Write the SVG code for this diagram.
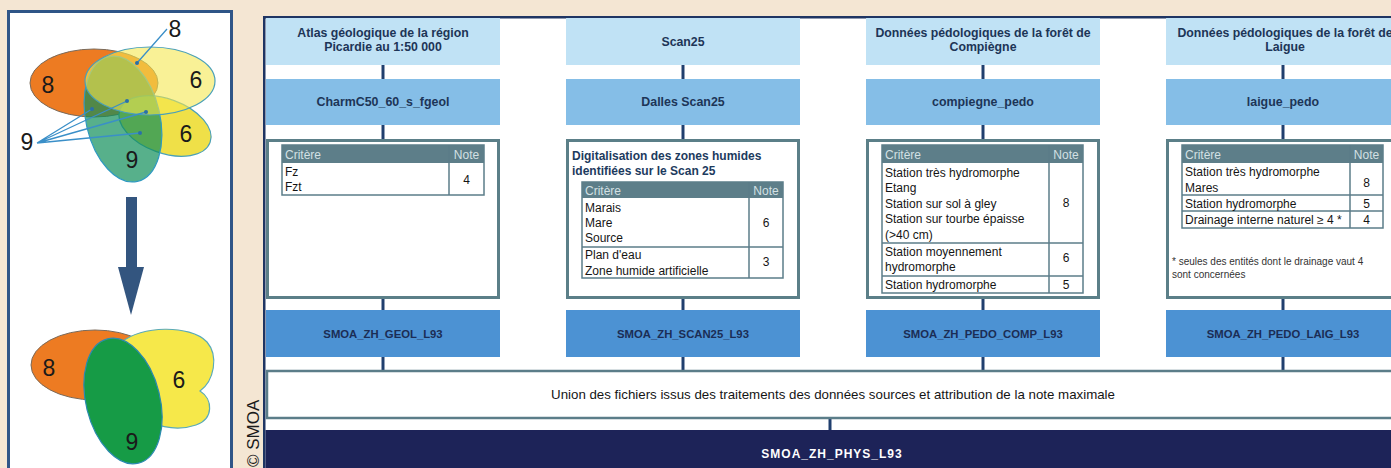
<svg xmlns="http://www.w3.org/2000/svg" width="1391" height="468" viewBox="0 0 1391 468">
<style>
.t{font-family:"Liberation Sans",Arial,sans-serif}
.hdr{font-weight:bold;font-size:12.3px;fill:#1d3557;text-anchor:middle}
.mid{font-weight:bold;font-size:12.4px;fill:#1d3557;text-anchor:middle}
.out{font-weight:bold;font-size:11.3px;fill:#1b2d55;text-anchor:middle}
.tb{font-size:12px;fill:#151515}
.nt{font-size:12px;fill:#151515;text-anchor:middle}
.th{font-size:12px;fill:#d3e0e4}
.thn{font-size:12px;fill:#d3e0e4;text-anchor:middle}
.num{font-size:23px;fill:#1a1a1a;text-anchor:middle}
.topbox{fill:#c0e2f5}
.midbox{fill:#85bee7}
.outbox{fill:#4c92d3}
.crit{fill:#fff;stroke:#5b7f88;stroke-width:3}
.tbl{fill:#fff;stroke:#5b7d89;stroke-width:1.5}
.thead{fill:#5d7e89}
.rl{stroke:#5b7d89;stroke-width:1.5}
.conn{stroke:#203f6e;stroke-width:3}
.lead{stroke:#3a8fc8;stroke-width:1.3;fill:none}
</style>
<rect width="1391" height="468" fill="#f4e6d3"/>

<!-- Left panel -->
<g id="venn-panel">
<rect x="8.5" y="11.5" width="223" height="470" fill="#fff" stroke="#2f5587" stroke-width="3"/>
<g id="venn-before">
<ellipse cx="94" cy="83" rx="64" ry="34" fill="#ed7b22" stroke="#7a6a5a" stroke-width="1"/>
<ellipse cx="165" cy="126" rx="48" ry="27" transform="rotate(20 165 126)" fill="#efe048" stroke="#4aa0b8" stroke-width="1.2"/>
<ellipse cx="123" cy="119" rx="37" ry="64" transform="rotate(-13 123 119)" fill="#0f8f5a" fill-opacity="0.7" stroke="#2f9ac0" stroke-width="1.2"/>
<ellipse cx="150" cy="81" rx="65" ry="34" fill="#f5e850" fill-opacity="0.6" stroke="#4aa0b8" stroke-width="1.2"/>
<text class="t num" x="48" y="93">8</text>
<text class="t num" x="196" y="88">6</text>
<text class="t num" x="186" y="142">6</text>
<text class="t num" x="132" y="168">9</text>
<text class="t num" x="175" y="37">8</text>
<text class="t num" x="27" y="150">9</text>
<path class="lead" d="M167 29 L137 63 M37 143 L127 101 M37 143 L146 112 M37 143 L140 133 M37 143 L92 109"/>
<g fill="#2a70a8"><circle cx="137" cy="63" r="2"/><circle cx="127" cy="101" r="2"/><circle cx="146" cy="112" r="2"/><circle cx="140" cy="133" r="2"/><circle cx="92" cy="109" r="2"/></g>
</g>
<g id="arrow">
<rect x="126" y="197" width="11" height="71" fill="#33557f"/>
<polygon points="118,267 144,267 131,315" fill="#33557f"/>
</g>
<g id="venn-after">
<ellipse cx="95" cy="365" rx="64" ry="35" fill="#ed7b22" stroke="#7a6a5a" stroke-width="1"/>
<path d="M122 342 C140 326 190 324 207 342 C219 356 214 381 200 391 C213 399 214 419 196 425 C176 432 150 426 140 414 Z" fill="#f6e84a" stroke="#5aaab8" stroke-width="1.2"/>
<ellipse cx="123" cy="401" rx="37" ry="64" transform="rotate(-14 123 401)" fill="#169b46" stroke="#2a8ab0" stroke-width="1.2"/>
<text class="t num" x="49" y="376">8</text>
<text class="t num" x="179" y="388">6</text>
<text class="t num" x="132" y="450">9</text>
</g>
</g>

<text class="t" transform="translate(259,467) rotate(-90)" font-size="17" fill="#1a1a1a">© SMOA</text>

<!-- Right panel -->
<rect x="264.25" y="17.25" width="1140" height="470" fill="#fff" stroke="#1f3563" stroke-width="2.5"/>

<g id="connectors">
<line class="conn" x1="383" y1="65" x2="383" y2="79"/>
<line class="conn" x1="383" y1="125" x2="383" y2="140"/>
<line class="conn" x1="383" y1="298" x2="383" y2="310"/>
<line class="conn" x1="383" y1="357" x2="383" y2="370"/>
<line class="conn" x1="683" y1="65" x2="683" y2="79"/>
<line class="conn" x1="683" y1="125" x2="683" y2="140"/>
<line class="conn" x1="683" y1="298" x2="683" y2="310"/>
<line class="conn" x1="683" y1="357" x2="683" y2="370"/>
<line class="conn" x1="983" y1="65" x2="983" y2="79"/>
<line class="conn" x1="983" y1="125" x2="983" y2="140"/>
<line class="conn" x1="983" y1="298" x2="983" y2="310"/>
<line class="conn" x1="983" y1="357" x2="983" y2="370"/>
<line class="conn" x1="1283" y1="65" x2="1283" y2="79"/>
<line class="conn" x1="1283" y1="125" x2="1283" y2="140"/>
<line class="conn" x1="1283" y1="298" x2="1283" y2="310"/>
<line class="conn" x1="1283" y1="357" x2="1283" y2="370"/>
<line class="conn" x1="830" y1="418" x2="830" y2="430"/>
</g>

<!-- Column 1 -->
<g id="src-geol"><rect class="topbox" x="266" y="18" width="234" height="47"/>
<text class="t hdr" x="383" y="37">Atlas géologique de la région</text>
<text class="t hdr" x="383" y="51">Picardie au 1:50 000</text></g>
<g id="lyr-geol"><rect class="midbox" x="266" y="79" width="234" height="46"/>
<text class="t mid" x="383" y="106">CharmC50_60_s_fgeol</text></g>
<g id="crit-geol"><rect class="crit" x="267.5" y="140.5" width="231" height="157"/>
<rect class="tbl" x="282" y="145" width="202" height="50"/>
<rect class="thead" x="282" y="145" width="202" height="18"/>
<line class="rl" x1="449" y1="145" x2="449" y2="195"/>
<text class="t th" x="285" y="159">Critère</text><text class="t thn" x="466.5" y="159">Note</text>
<text class="t tb" x="285" y="176">Fz</text><text class="t tb" x="285" y="191">Fzt</text>
<text class="t nt" x="466.5" y="184">4</text></g>
<g id="out-geol"><rect class="outbox" x="266" y="310" width="234" height="47"/>
<text class="t out" x="383" y="338">SMOA_ZH_GEOL_L93</text></g>

<!-- Column 2 -->
<g id="src-scan"><rect class="topbox" x="566" y="18" width="234" height="47"/>
<text class="t hdr" x="683" y="46">Scan25</text></g>
<g id="lyr-scan"><rect class="midbox" x="566" y="79" width="234" height="46"/>
<text class="t mid" x="683" y="106">Dalles Scan25</text></g>
<g id="crit-scan"><rect class="crit" x="567.5" y="140.5" width="231" height="157"/>
<text class="t" x="572" y="160" font-size="12" font-weight="bold" fill="#1d3b5e">Digitalisation des zones humides</text>
<text class="t" x="572" y="175" font-size="12" font-weight="bold" fill="#1d3b5e">identifiées sur le Scan 25</text>
<rect class="tbl" x="582" y="182" width="201" height="96"/>
<rect class="thead" x="582" y="182" width="201" height="16"/>
<line class="rl" x1="749" y1="182" x2="749" y2="278"/>
<line class="rl" x1="582" y1="247" x2="783" y2="247"/>
<text class="t th" x="585" y="194.5">Critère</text><text class="t thn" x="766" y="194.5">Note</text>
<text class="t tb" x="585" y="212">Marais</text><text class="t tb" x="585" y="227">Mare</text><text class="t tb" x="585" y="242">Source</text>
<text class="t tb" x="585" y="259">Plan d'eau</text><text class="t tb" x="585" y="274.5">Zone humide artificielle</text>
<text class="t nt" x="766" y="227">6</text><text class="t nt" x="766" y="266">3</text></g>
<g id="out-scan"><rect class="outbox" x="566" y="310" width="234" height="47"/>
<text class="t out" x="683" y="338">SMOA_ZH_SCAN25_L93</text></g>

<!-- Column 3 -->
<g id="src-comp"><rect class="topbox" x="866" y="18" width="234" height="47"/>
<text class="t hdr" x="983" y="37">Données pédologiques de la forêt de</text>
<text class="t hdr" x="983" y="51">Compiègne</text></g>
<g id="lyr-comp"><rect class="midbox" x="866" y="79" width="234" height="46"/>
<text class="t mid" x="983" y="106">compiegne_pedo</text></g>
<g id="crit-comp"><rect class="crit" x="867.5" y="140.5" width="231" height="157"/>
<rect class="tbl" x="882" y="145" width="201" height="148"/>
<rect class="thead" x="882" y="145" width="201" height="18"/>
<line class="rl" x1="1049" y1="145" x2="1049" y2="293"/>
<line class="rl" x1="882" y1="243" x2="1083" y2="243"/>
<line class="rl" x1="882" y1="276" x2="1083" y2="276"/>
<text class="t th" x="885" y="159">Critère</text><text class="t thn" x="1066" y="159">Note</text>
<text class="t tb" x="885" y="176.5">Station très hydromorphe</text>
<text class="t tb" x="885" y="192">Etang</text>
<text class="t tb" x="885" y="207.6">Station sur sol à gley</text>
<text class="t tb" x="885" y="223.2">Station sur tourbe épaisse</text>
<text class="t tb" x="885" y="238.8">(&gt;40 cm)</text>
<text class="t tb" x="885" y="255.5">Station moyennement</text>
<text class="t tb" x="885" y="271">hydromorphe</text>
<text class="t tb" x="885" y="289">Station hydromorphe</text>
<text class="t nt" x="1066" y="207">8</text><text class="t nt" x="1066" y="262">6</text><text class="t nt" x="1066" y="289">5</text></g>
<g id="out-comp"><rect class="outbox" x="866" y="310" width="234" height="47"/>
<text class="t out" x="983" y="338">SMOA_ZH_PEDO_COMP_L93</text></g>

<!-- Column 4 -->
<g id="src-laig"><rect class="topbox" x="1166" y="18" width="240" height="47"/>
<text class="t hdr" x="1285" y="37">Données pédologiques de la forêt de</text>
<text class="t hdr" x="1285" y="51">Laigue</text></g>
<g id="lyr-laig"><rect class="midbox" x="1166" y="79" width="240" height="46"/>
<text class="t mid" x="1283" y="106">laigue_pedo</text></g>
<g id="crit-laig"><rect class="crit" x="1167.5" y="140.5" width="240" height="157"/>
<rect class="tbl" x="1182" y="145" width="201" height="83"/>
<rect class="thead" x="1182" y="145" width="201" height="18"/>
<line class="rl" x1="1350" y1="145" x2="1350" y2="228"/>
<line class="rl" x1="1182" y1="195" x2="1383" y2="195"/>
<line class="rl" x1="1182" y1="211" x2="1383" y2="211"/>
<text class="t th" x="1185" y="159">Critère</text><text class="t thn" x="1366.5" y="159">Note</text>
<text class="t tb" x="1185" y="176">Station très hydromorphe</text>
<text class="t tb" x="1185" y="191.5">Mares</text>
<text class="t tb" x="1185" y="208">Station hydromorphe</text>
<text class="t tb" x="1185" y="224">Drainage interne naturel ≥ 4 *</text>
<text class="t nt" x="1366.5" y="187">8</text><text class="t nt" x="1366.5" y="208">5</text><text class="t nt" x="1366.5" y="224">4</text>
<text class="t" x="1172" y="265" font-size="10" fill="#333">* seules des entités dont le drainage vaut 4</text>
<text class="t" x="1172" y="278" font-size="10" fill="#333">sont concernées</text></g>
<g id="out-laig"><rect class="outbox" x="1166" y="310" width="240" height="47"/>
<text class="t out" x="1283" y="338">SMOA_ZH_PEDO_LAIG_L93</text></g>

<!-- Union -->
<g id="union"><rect x="267" y="371" width="1140" height="47" fill="#fff" stroke="#5b7d89" stroke-width="2.5"/>
<text class="t" x="833" y="399" font-size="13.3" fill="#151515" text-anchor="middle">Union des fichiers issus des traitements des données sources et attribution de la note maximale</text></g>

<!-- Final -->
<g id="final"><rect x="265.5" y="430" width="1130" height="45" fill="#1d2358"/>
<text class="t" x="832" y="458" font-size="12" font-weight="bold" letter-spacing="1" fill="#fff" text-anchor="middle">SMOA_ZH_PHYS_L93</text></g>
</svg>
